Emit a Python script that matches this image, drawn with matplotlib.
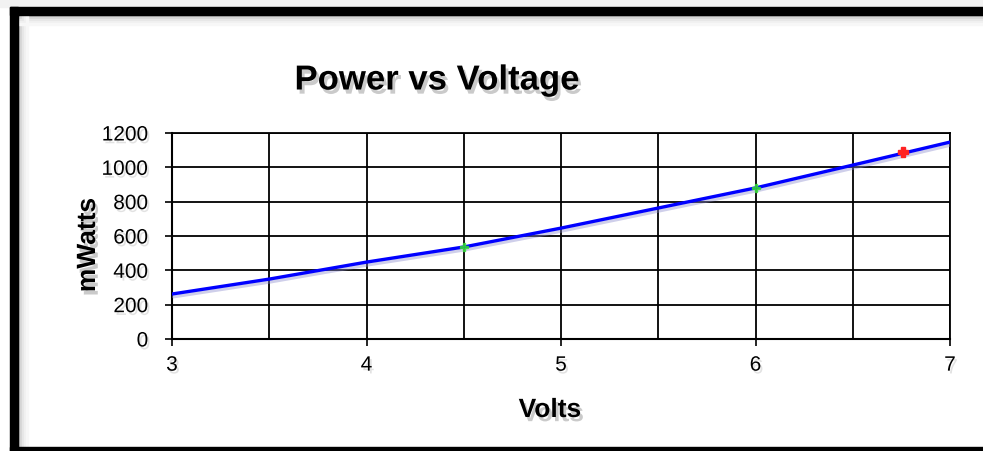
import matplotlib
matplotlib.use("Agg")
import matplotlib.pyplot as plt
from matplotlib.patches import Rectangle
import matplotlib.patheffects as pe

# Data
volts = [3, 3.5, 4, 4.5, 5, 5.5, 6, 6.5, 7]
mwatts = [262, 349, 448, 536, 646, 763, 880, 1013, 1147]
green_v = [4.5, 6.0]
green_p = [536, 880]
red_v = [6.76]
red_p = [1089]
xticks = [3, 4, 5, 6, 7]
yticks = [0, 200, 400, 600, 800, 1000, 1200]
title = "Power vs Voltage"
xlabel = "Volts"
ylabel = "mWatts"

W, H = 983, 451
fig = plt.figure(figsize=(W / 100, H / 100), dpi=100)
fig.patch.set_facecolor("white")

narrow = ["Liberation Sans Narrow", "Liberation Sans", "DejaVu Sans"]
shadow = [pe.withSimplePatchShadow(offset=(2, -3), shadow_rgbFace="#a0a0a0", alpha=0.55)]
tick_shadow = [pe.withSimplePatchShadow(offset=(1.5, -2), shadow_rgbFace="#d0d0d0", alpha=0.6)]

# Frame
def px(x0, y0, w, h, **kw):
    fig.patches.append(Rectangle((x0 / W, 1 - (y0 + h) / H), w / W, h / H,
                                 transform=fig.transFigure, **kw))

px(0, 0, W, 7, color="#f2f2f2", zorder=0)
px(10, 7, W - 10, 8, color="black", zorder=5)
px(10, 7, 8, H - 7, color="black", zorder=5)
px(10, 447, W - 10, 4, color="black", zorder=5)
for i, c in enumerate(["#bdbdbd", "#d5d5d5", "#e6e6e6", "#f0f0f0", "#f7f7f7"]):
    px(18 + 2 * i, 15, 2, 432, color=c, zorder=4)
    px(18, 15 + 2 * i, W - 18, 2, color=c, zorder=4)

ax = fig.add_axes([172 / W, 1 - 339 / H, (950 - 172) / W, (339 - 133) / H])
ax.set_xlim(3, 7)
ax.set_ylim(0, 1200)
ax.set_xticks(xticks)
ax.set_xticks([3.5, 4.5, 5.5, 6.5], minor=True)
ax.set_yticks(yticks)
ax.set_xticklabels([str(v) for v in xticks])
ax.set_yticklabels([str(v) for v in yticks])
ax.grid(True, which="both", color="black", linewidth=1.3)
ax.tick_params(axis="x", which="minor", length=0)
ax.tick_params(axis="both", which="major", length=5, width=1.2, direction="out",
               labelsize=15, color="black")
ax.tick_params(axis="y", which="major", pad=12)
ax.tick_params(axis="x", which="major", pad=7)
for lab in ax.get_xticklabels() + ax.get_yticklabels():
    lab.set_family(narrow)
    lab.set_path_effects(tick_shadow)
for s in ["top", "right"]:
    ax.spines[s].set_visible(True)
    ax.spines[s].set_color("black")
    ax.spines[s].set_linewidth(1.3)
ax.spines["left"].set_linewidth(1.5)
ax.spines["bottom"].set_linewidth(1.5)

ax.plot(volts, mwatts, color="#0000ff", linewidth=2.4, zorder=4, solid_capstyle="round",
        path_effects=[pe.SimpleLineShadow(offset=(1, -2), shadow_color="#8888cc", alpha=0.4), pe.Normal()])
ax.plot(green_v, green_p, linestyle="none", marker="P", markersize=6, color="#33dd33",
        alpha=0.8, zorder=5)
ax.plot(red_v, red_p, linestyle="none", marker="P", markersize=7, color="#ff2222", zorder=5)

fig.text(437 / W, 1 - 80 / H, title, ha="center", va="center", fontsize=25,
         fontweight="bold", family=narrow, path_effects=shadow)
fig.text(550 / W, 1 - 410 / H, xlabel, ha="center", va="center", fontsize=19,
         fontweight="bold", family=narrow, path_effects=shadow)
fig.text(88 / W, 1 - 245 / H, ylabel, ha="center", va="center", fontsize=19,
         fontweight="bold", family=narrow, rotation=90, path_effects=shadow)

fig.savefig("out.png", dpi=100)
